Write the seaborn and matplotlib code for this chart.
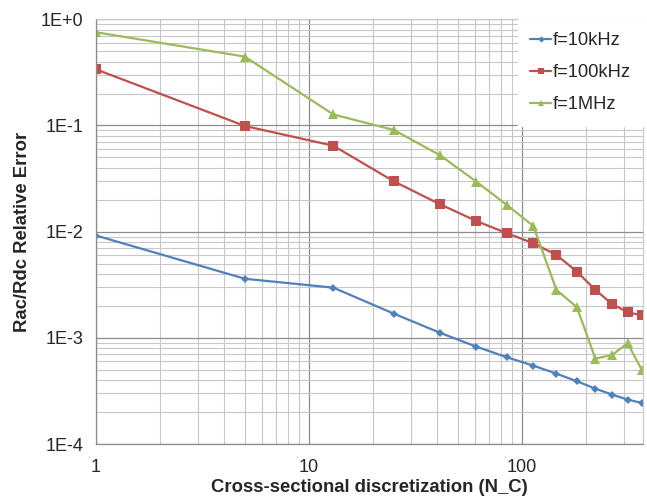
import numpy as np
import pandas as pd
import matplotlib
matplotlib.use("Agg")
import matplotlib.pyplot as plt
import matplotlib.ticker as mticker
import seaborn as sns

# ---- data ----
n_c = [1, 5, 13, 25, 41, 61, 85, 113, 145, 181, 221, 265, 313, 365]
err_10k = [9.2e-3, 3.6e-3, 2.97e-3, 1.69e-3, 1.12e-3, 8.26e-4, 6.56e-4, 5.47e-4,
           4.60e-4, 3.90e-4, 3.32e-4, 2.92e-4, 2.62e-4, 2.44e-4]
err_100k = [0.338, 0.0989, 0.0645, 0.0298, 0.0182, 0.0126, 0.00966, 0.00778,
            0.00604, 0.0042, 0.00283, 0.00208, 0.00174, 0.00163]
err_1M = [0.755, 0.445, 0.127, 0.0907, 0.0528, 0.0296, 0.0178, 0.0113,
          0.00283, 0.00194, 6.37e-4, 6.9e-4, 8.9e-4, 4.99e-4]
series_names = ["f=10kHz", "f=100kHz", "f=1MHz"]
y_tick_labels = ["1E-4", "1E-3", "1E-2", "1E-1", "1E+0"]
x_tick_labels = ["1", "10", "100"]

df = pd.DataFrame({
    "N": n_c * 3,
    "err": err_10k + err_100k + err_1M,
    "series": [series_names[0]] * len(n_c) + [series_names[1]] * len(n_c) + [series_names[2]] * len(n_c),
})

sns.set_style("white")
plt.rcParams["font.family"] = ["Liberation Sans", "DejaVu Sans"]

fig = plt.figure(figsize=(6.47, 4.99), dpi=100)
ax = fig.add_axes([0.1484, 0.1102, 0.8459, 0.8511])

palette = {series_names[0]: "#4F81BD", series_names[1]: "#C0504D", series_names[2]: "#9BBB59"}
markers = {series_names[0]: "D", series_names[1]: "s", series_names[2]: "^"}
sizes_m = {series_names[0]: 4.5, series_names[1]: 6.5, series_names[2]: 6.5}

for name in series_names:
    sub = df[df["series"] == name]
    sns.lineplot(data=sub, x="N", y="err", ax=ax, color=palette[name], marker=markers[name],
                 markersize=sizes_m[name], markeredgewidth=0, linewidth=1.6, label=name)

ax.set_xscale("log")
ax.set_yscale("log")
ax.set_xlim(1, 371)
ax.set_ylim(1e-4, 1)

ax.xaxis.set_major_locator(mticker.FixedLocator([1, 10, 100]))
ax.xaxis.set_major_formatter(mticker.FixedFormatter(x_tick_labels))
ax.yaxis.set_major_locator(mticker.FixedLocator([1e-4, 1e-3, 1e-2, 1e-1, 1]))
ax.yaxis.set_major_formatter(mticker.FixedFormatter(y_tick_labels))
ax.xaxis.set_minor_locator(mticker.LogLocator(base=10, subs=np.arange(2, 10), numticks=20))
ax.yaxis.set_minor_locator(mticker.LogLocator(base=10, subs=np.arange(2, 10), numticks=20))
ax.xaxis.set_minor_formatter(mticker.NullFormatter())
ax.yaxis.set_minor_formatter(mticker.NullFormatter())

ax.grid(True, which="major", color="#8C8C8C", linewidth=0.9)
ax.grid(True, which="minor", color="#C8C8C8", linewidth=0.8)
ax.set_axisbelow(True)

ax.tick_params(axis="both", which="major", length=6, width=0.9, color="#8C8C8C",
               labelsize=13, direction="out", pad=3)
ax.tick_params(axis="both", which="minor", length=0)
ax.tick_params(axis="x", pad=5)

for side in ["left", "bottom"]:
    ax.spines[side].set_color("#8C8C8C")
    ax.spines[side].set_linewidth(0.9)
for side in ["top", "right"]:
    ax.spines[side].set_color("#C8C8C8")
    ax.spines[side].set_linewidth(0.8)

ax.set_xlabel("Cross-sectional discretization (N_C)", fontsize=13.3, fontweight="bold", labelpad=2)
ax.set_ylabel("Rac/Rdc Relative Error", fontsize=13.3, fontweight="bold", labelpad=7)

leg = ax.legend(loc="upper right", fontsize=13.2, frameon=True, fancybox=False,
                borderaxespad=0.0, handlelength=1.1, handletextpad=0.1,
                labelspacing=0.82, borderpad=0.7, markerscale=0.7)
leg.get_frame().set_facecolor("white")
leg.get_frame().set_edgecolor("white")
leg.get_frame().set_alpha(1.0)

fig.savefig("out.png", dpi=100)
